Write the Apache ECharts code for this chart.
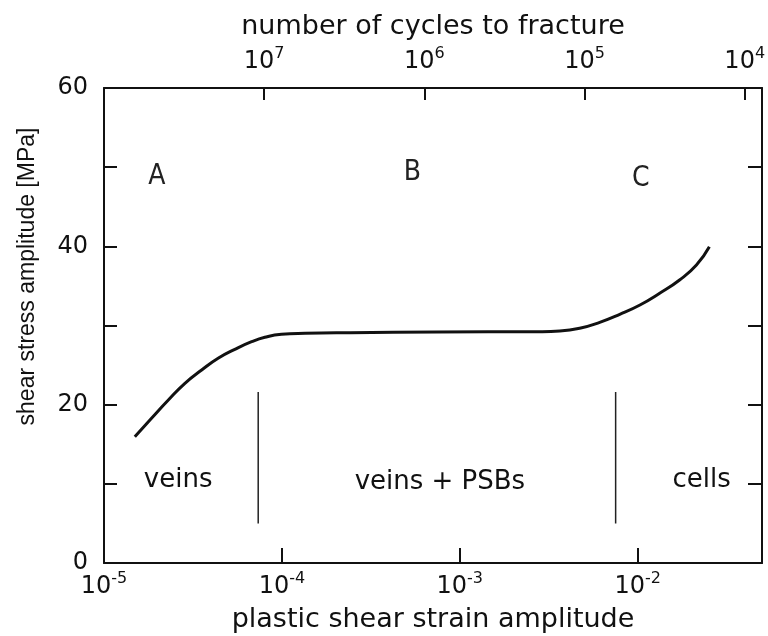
<!DOCTYPE html>
<html>
<head>
<meta charset="utf-8">
<script src="https://cdn.jsdelivr.net/npm/echarts@6/dist/echarts.min.js"></script>
<style>
  html, body { margin: 0; padding: 0; background: #fff; }
  #chart { width: 768px; height: 636px; }
</style>
</head>
<body>
<div id="chart"></div>
<script>
// plastic shear strain amplitude vs shear stress amplitude (MPa)
var strain = [1.49e-5, 1.85e-5, 2.30e-5, 2.85e-5, 3.54e-5, 4.38e-5, 5.44e-5, 6.76e-5, 8.02e-5, 9.95e-5, 1.35e-4, 2.42e-4, 7.41e-4, 2.81e-3, 3.65e-3, 4.72e-3, 6.12e-3, 7.93e-3, 1.03e-2, 1.33e-2, 1.72e-2, 2.14e-2, 2.53e-2];
var stress = [15.95, 18.28, 20.59, 22.70, 24.38, 25.86, 26.99, 27.95, 28.51, 28.89, 29.01, 29.09, 29.18, 29.22, 29.30, 29.65, 30.40, 31.41, 32.59, 34.07, 35.75, 37.64, 39.95];

// region boundaries (vertical lines)
var boundaryStrain = [7.36e-5, 7.52e-3];
var boundaryStress = [21.6, 5.0];

// region texts
var regionNames = ["veins", "veins + PSBs", "cells"];
var regionX = [2.61e-5, 7.73e-4, 2.29e-2];
var regionY = [10.4, 10.2, 10.4];

var letterNames = ["A", "B", "C"];
var letterX = [1.98e-5, 5.42e-4, 1.04e-2];
var letterY = [48.8, 49.3, 48.6];

// tick labels
var bottomExp = [-5, -4, -3, -2];
var topExp = [7, 6, 5, 4];
var yLabels = [0, 20, 40, 60];

var ink = "#111";
var font = "'DejaVu Sans', sans-serif";

function powLabel(list) {
  return function (v) {
    var e = Math.log(v) / Math.LN10;
    var r = Math.round(e);
    if (Math.abs(e - r) > 1e-6 || list.indexOf(r) < 0) return "";
    return "{b|10}{s|" + r + "}";
  };
}
var powRich = {
  b: { fontSize: 24, fontFamily: font, color: ink, verticalAlign: "bottom" },
  s: { fontSize: 16, fontFamily: font, color: ink, verticalAlign: "bottom", padding: [0, 0, 12, 0] }
};

var lineStyle = { color: ink, width: 2 };

var chart = echarts.init(document.getElementById("chart"));
var option = {
  animation: false,
  backgroundColor: "#fff",
  grid: { left: 104, right: 6, top: 88, bottom: 73, containLabel: false, outerBoundsMode: "none" },
  xAxis: [
    {
      type: "log",
      position: "bottom",
      min: 1e-5,
      max: 0.05,
      axisLine: { show: true, onZero: false, lineStyle: lineStyle },
      axisTick: { show: true, inside: true, length: 15, lineStyle: lineStyle },
      splitLine: { show: false },
      axisLabel: { margin: 8, formatter: powLabel(bottomExp), rich: powRich },
      name: "plastic shear strain amplitude",
      nameLocation: "middle",
      nameGap: 43,
      nameTextStyle: { fontSize: 27, fontFamily: font, color: ink }
    },
    {
      type: "log",
      position: "top",
      inverse: true,
      min: 7800,
      max: 1e8,
      axisLine: { show: true, onZero: false, lineStyle: lineStyle },
      axisTick: { show: true, inside: true, length: 12, lineStyle: lineStyle },
      splitLine: { show: false },
      axisLabel: { margin: 14, formatter: powLabel(topExp), rich: powRich },
      name: "number of cycles to fracture",
      nameLocation: "middle",
      nameGap: 48,
      nameTextStyle: { fontSize: 27, fontFamily: font, color: ink }
    }
  ],
  yAxis: [
    {
      type: "value",
      position: "left",
      min: 0,
      max: 60,
      interval: 10,
      axisLine: { show: true, onZero: false, lineStyle: lineStyle },
      axisTick: { show: true, inside: true, length: 13, lineStyle: lineStyle },
      splitLine: { show: false },
      axisLabel: {
        margin: 16,
        fontSize: 24,
        fontFamily: font,
        color: ink,
        formatter: function (v) { return yLabels.indexOf(v) >= 0 ? String(v) : ""; }
      },
      name: "shear stress amplitude [MPa]",
      nameLocation: "middle",
      nameGap: 65,
      nameTextStyle: { fontSize: 23, fontFamily: "'Liberation Sans', Arial, sans-serif", color: ink, padding: [0, 0, 0, 98] }
    },
    {
      type: "value",
      position: "right",
      min: 0,
      max: 60,
      interval: 10,
      axisLine: { show: true, onZero: false, lineStyle: lineStyle },
      axisTick: { show: true, inside: true, length: 14, lineStyle: lineStyle },
      splitLine: { show: false },
      axisLabel: { show: false }
    }
  ],
  series: [
    {
      type: "line",
      xAxisIndex: 0,
      yAxisIndex: 0,
      smooth: 0.5,
      showSymbol: false,
      lineStyle: { color: ink, width: 3 },
      data: strain.map(function (x, i) { return [x, stress[i]]; })
    }
  ].concat(boundaryStrain.map(function (x) {
    return {
      type: "line",
      xAxisIndex: 0,
      yAxisIndex: 0,
      showSymbol: false,
      lineStyle: { color: "#222", width: 1.5 },
      data: boundaryStress.map(function (y) { return [x, y]; })
    };
  })).concat([
    {
      type: "scatter",
      xAxisIndex: 0,
      yAxisIndex: 0,
      symbolSize: 0,
      itemStyle: { color: ink },
      label: { show: true, position: "inside", formatter: "{b}", fontSize: 26, fontFamily: font, color: ink, opacity: 1 },
      data: regionNames.map(function (n, i) { return { name: n, value: [regionX[i], regionY[i]] }; })
    },
    {
      type: "scatter",
      xAxisIndex: 0,
      yAxisIndex: 0,
      symbolSize: 0,
      itemStyle: { color: ink },
      label: {
        show: true, position: "inside", formatter: "{b}", fontSize: 28, opacity: 1,
        fontFamily: "'Liberation Sans Narrow', 'DejaVu Sans Condensed', 'DejaVu Sans Mono', monospace",
        color: "#222"
      },
      data: letterNames.map(function (n, i) { return { name: n, value: [letterX[i], letterY[i]] }; })
    }
  ])
};
chart.setOption(option);
</script>
</body>
</html>
